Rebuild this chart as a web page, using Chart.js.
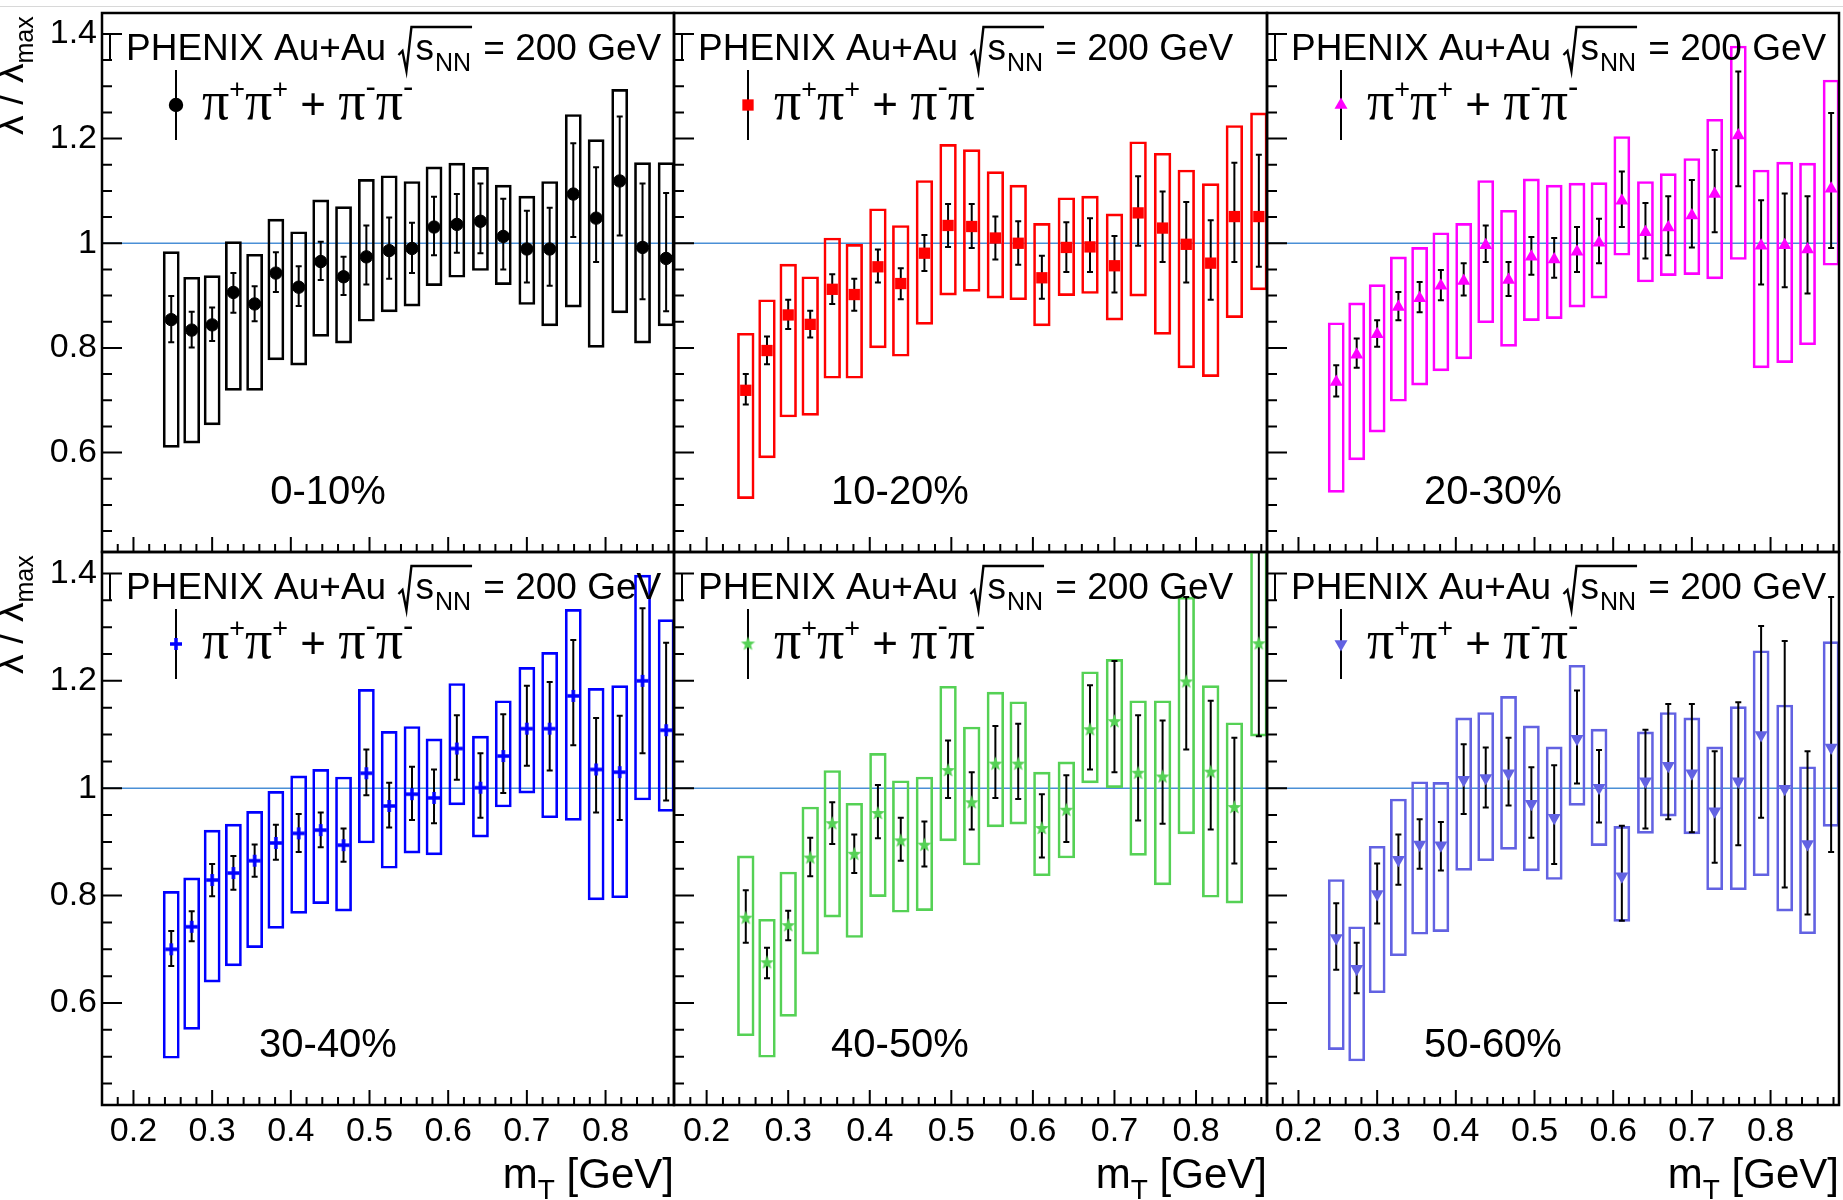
<!DOCTYPE html>
<html>
<head>
<meta charset="utf-8">
<title>lambda / lambda_max vs mT</title>
<script src="https://cdn.jsdelivr.net/npm/chart.js@4.4.1/dist/chart.umd.min.js"></script>
<style>
  body { margin: 0; background: #fff; }
  #wrap { position: relative; width: 1843px; height: 1200px; overflow: hidden; }
  #wrap canvas { position: absolute; }
  #topline { position: absolute; left: 0; top: 6px; width: 1843px; height: 1px; background: #d8d8d8; }
</style>
</head>
<body>
<div id="wrap"><div id="topline"></div></div>
<script>
// m_T bin centres [GeV], same bins for every centrality class
const mT = [0.248, 0.274, 0.300, 0.327, 0.354, 0.381, 0.410, 0.438, 0.467, 0.496, 0.525, 0.554,
            0.582, 0.611, 0.641, 0.670, 0.700, 0.729, 0.759, 0.788, 0.818, 0.847, 0.877];
const centralities = ['0-10%', '10-20%', '20-30%', '30-40%', '40-50%', '50-60%'];
const xTicks = [0.2, 0.3, 0.4, 0.5, 0.6, 0.7, 0.8];
const yTicks = [0.6, 0.8, 1.0, 1.2, 1.4];

// 0-10%
const lam0 = [0.854, 0.834, 0.844, 0.906, 0.884, 0.943, 0.916, 0.965, 0.936, 0.974, 0.986, 0.990,
              1.031, 1.036, 1.042, 1.013, 0.989, 0.989, 1.094, 1.048, 1.119, 0.992, 0.971];
const statLo0 = [0.811, 0.801, 0.813, 0.867, 0.851, 0.907, 0.880, 0.930, 0.901, 0.921, 0.932, 0.943,
                 0.977, 0.982, 0.981, 0.950, 0.925, 0.919, 1.012, 0.964, 1.015, 0.893, 0.870];
const statHi0 = [0.899, 0.869, 0.877, 0.943, 0.918, 0.983, 0.956, 1.003, 0.974, 1.034, 1.049, 1.039,
                 1.089, 1.094, 1.114, 1.085, 1.062, 1.068, 1.191, 1.145, 1.242, 1.114, 1.096];
const sysLo0 = [0.610, 0.618, 0.653, 0.719, 0.719, 0.777, 0.767, 0.822, 0.809, 0.851, 0.869, 0.880,
                0.919, 0.935, 0.948, 0.921, 0.883, 0.842, 0.878, 0.801, 0.867, 0.809, 0.842];
const sysHi0 = [0.984, 0.935, 0.938, 1.003, 0.979, 1.046, 1.022, 1.083, 1.070, 1.122, 1.129, 1.118,
                1.146, 1.153, 1.145, 1.111, 1.090, 1.118, 1.246, 1.198, 1.294, 1.154, 1.154];

// 10-20%
const lam10 = [0.719, 0.795, 0.863, 0.845, 0.912, 0.902, 0.955, 0.923, 0.981, 1.034, 1.032, 1.010,
               1.000, 0.934, 0.992, 0.993, 0.957, 1.058, 1.029, 0.998, 0.962, 1.051, 1.051];
const statLo10 = [0.692, 0.769, 0.836, 0.820, 0.884, 0.871, 0.925, 0.893, 0.947, 0.993, 0.991, 0.969,
                  0.959, 0.894, 0.945, 0.945, 0.906, 0.995, 0.964, 0.925, 0.892, 0.964, 0.955];
const statHi10 = [0.750, 0.822, 0.892, 0.871, 0.941, 0.932, 0.988, 0.952, 1.016, 1.075, 1.075, 1.051,
                  1.042, 0.976, 1.040, 1.048, 1.014, 1.128, 1.099, 1.079, 1.044, 1.154, 1.169];
const sysLo10 = [0.512, 0.590, 0.668, 0.671, 0.742, 0.742, 0.800, 0.784, 0.845, 0.901, 0.908, 0.895,
                 0.892, 0.842, 0.900, 0.904, 0.853, 0.899, 0.826, 0.762, 0.745, 0.858, 0.911];
const sysHi10 = [0.828, 0.892, 0.960, 0.936, 1.010, 0.998, 1.066, 1.034, 1.120, 1.189, 1.179, 1.137,
                 1.111, 1.038, 1.087, 1.090, 1.056, 1.194, 1.172, 1.140, 1.114, 1.225, 1.249];

// 20-30%
const lam20 = [0.735, 0.787, 0.826, 0.878, 0.895, 0.919, 0.928, 0.996, 0.930, 0.974, 0.969, 0.984,
               1.001, 1.081, 1.021, 1.030, 1.053, 1.094, 1.206, 0.995, 0.996, 0.988, 1.104];
const statLo20 = [0.707, 0.762, 0.802, 0.853, 0.868, 0.891, 0.900, 0.964, 0.899, 0.940, 0.934, 0.945,
                  0.962, 1.031, 0.971, 0.977, 0.992, 1.021, 1.109, 0.921, 0.916, 0.904, 0.991];
const statHi20 = [0.767, 0.818, 0.853, 0.907, 0.926, 0.949, 0.962, 1.034, 0.964, 1.012, 1.010, 1.031,
                  1.047, 1.137, 1.077, 1.090, 1.121, 1.178, 1.328, 1.082, 1.095, 1.090, 1.249];
const sysLo20 = [0.524, 0.586, 0.639, 0.698, 0.729, 0.756, 0.779, 0.848, 0.803, 0.852, 0.856, 0.878,
                 0.895, 0.977, 0.926, 0.938, 0.940, 0.932, 0.969, 0.762, 0.772, 0.806, 0.958];
const sysHi20 = [0.848, 0.886, 0.921, 0.974, 0.992, 1.020, 1.038, 1.120, 1.063, 1.123, 1.111, 1.115,
                 1.116, 1.204, 1.118, 1.133, 1.162, 1.237, 1.377, 1.140, 1.155, 1.153, 1.312];

// 30-40%
const lam30 = [0.700, 0.742, 0.829, 0.842, 0.865, 0.898, 0.916, 0.922, 0.894, 1.028, 0.967, 0.989,
               0.982, 1.074, 1.001, 1.060, 1.111, 1.111, 1.172, 1.035, 1.030, 1.200, 1.108];
const statLo30 = [0.669, 0.715, 0.799, 0.811, 0.835, 0.867, 0.881, 0.890, 0.863, 0.987, 0.927, 0.941,
                  0.935, 1.016, 0.945, 0.991, 1.042, 1.033, 1.080, 0.955, 0.941, 1.065, 0.977];
const statHi30 = [0.734, 0.771, 0.859, 0.874, 0.895, 0.932, 0.952, 0.955, 0.925, 1.072, 1.010, 1.040,
                  1.035, 1.136, 1.065, 1.138, 1.191, 1.198, 1.276, 1.131, 1.135, 1.335, 1.271];
const sysLo30 = [0.497, 0.551, 0.639, 0.669, 0.703, 0.739, 0.767, 0.785, 0.771, 0.898, 0.851, 0.879,
                 0.876, 0.969, 0.909, 0.965, 0.991, 0.945, 0.940, 0.792, 0.796, 0.978, 0.957];
const sysHi30 = [0.808, 0.833, 0.922, 0.933, 0.957, 0.994, 1.023, 1.035, 1.021, 1.184, 1.106, 1.115,
                 1.092, 1.195, 1.097, 1.163, 1.225, 1.253, 1.333, 1.186, 1.191, 1.397, 1.314];

// 40-50%
const lam40 = [0.758, 0.675, 0.744, 0.870, 0.934, 0.877, 0.953, 0.902, 0.894, 1.033, 0.973, 1.045,
               1.045, 0.925, 0.959, 1.109, 1.124, 1.028, 1.021, 1.198, 1.030, 0.964, 1.269];
const statLo40 = [0.712, 0.646, 0.717, 0.836, 0.896, 0.842, 0.907, 0.865, 0.854, 0.982, 0.923, 0.982,
                  0.980, 0.871, 0.900, 1.035, 1.030, 0.940, 0.934, 1.072, 0.923, 0.860, 1.097];
const statHi40 = [0.810, 0.703, 0.772, 0.908, 0.974, 0.914, 1.006, 0.945, 0.938, 1.089, 1.030, 1.116,
                  1.120, 0.989, 1.024, 1.192, 1.237, 1.136, 1.126, 1.356, 1.163, 1.094, 1.460];
const sysLo40 = [0.539, 0.499, 0.575, 0.691, 0.760, 0.722, 0.798, 0.769, 0.772, 0.902, 0.857, 0.928,
                 0.933, 0.837, 0.870, 1.010, 1.001, 0.875, 0.820, 0.915, 0.797, 0.786, 1.097];
const sysHi40 = [0.874, 0.756, 0.844, 0.965, 1.033, 0.972, 1.065, 1.014, 1.021, 1.190, 1.114, 1.179,
                 1.161, 1.030, 1.049, 1.217, 1.240, 1.163, 1.163, 1.356, 1.191, 1.122, 1.460];

// 50-60%
const lam50 = [0.721, 0.664, 0.803, 0.867, 0.895, 0.894, 1.016, 1.019, 1.028, 0.971, 0.945, 1.092,
               1.001, 0.836, 1.013, 1.042, 1.028, 0.957, 1.013, 1.099, 0.999, 0.896, 1.076];
const statLo50 = [0.662, 0.618, 0.748, 0.820, 0.850, 0.847, 0.952, 0.964, 0.968, 0.908, 0.859, 1.009,
                  0.936, 0.753, 0.925, 0.942, 0.918, 0.861, 0.894, 0.945, 0.815, 0.765, 0.881];
const statHi50 = [0.786, 0.712, 0.860, 0.914, 0.942, 0.937, 1.082, 1.076, 1.094, 1.039, 1.043, 1.182,
                  1.071, 0.930, 1.109, 1.157, 1.157, 1.069, 1.160, 1.302, 1.274, 1.069, 1.356];
const sysLo50 = [0.513, 0.492, 0.619, 0.688, 0.728, 0.733, 0.847, 0.865, 0.886, 0.846, 0.830, 0.968,
                 0.893, 0.752, 0.916, 0.948, 0.915, 0.811, 0.811, 0.837, 0.771, 0.729, 0.929];
const sysHi50 = [0.830, 0.742, 0.892, 0.980, 1.012, 1.011, 1.131, 1.141, 1.171, 1.116, 1.077, 1.229,
                 1.110, 0.929, 1.105, 1.141, 1.131, 1.077, 1.152, 1.256, 1.155, 1.040, 1.273];

const lamAll = [lam0, lam10, lam20, lam30, lam40, lam50];
const statLoAll = [statLo0, statLo10, statLo20, statLo30, statLo40, statLo50];
const statHiAll = [statHi0, statHi10, statHi20, statHi30, statHi40, statHi50];
const sysLoAll = [sysLo0, sysLo10, sysLo20, sysLo30, sysLo40, sysLo50];
const sysHiAll = [sysHi0, sysHi10, sysHi20, sysHi30, sysHi40, sysHi50];

// page layout (frame edges of the 3x2 pads)
const colX = [102, 674, 1267, 1839];
const rowY = [13, 552, 1105];
const X_MIN = 0.16, X_MAX = 0.887, Y_MIN = 0.41, Y_MAX = 1.44;
const BOX_W = 0.0205; // width of the systematic boxes in GeV

const colors = ['#000000', '#ff0000', '#ff00ff', '#0000ff', '#55d155', '#6262e2'];
const SANS = '"Liberation Sans", Arial, sans-serif';
const SERIF = '"Liberation Serif", "Times New Roman", serif';

function starImage(color, r) {
    const s = Math.ceil(r * 2) + 2;
    const cv = document.createElement('canvas');
    cv.width = s; cv.height = s;
    const g = cv.getContext('2d');
    g.fillStyle = color;
    g.beginPath();
    for (let k = 0; k < 10; k++) {
        const rad = k % 2 ? r * 0.42 : r;
        const ang = -Math.PI / 2 + k * Math.PI / 5;
        g.lineTo(s / 2 + rad * Math.cos(ang), s / 2 + rad * Math.sin(ang));
    }
    g.closePath();
    g.fill();
    return cv;
}

function plusImage(color, r, t) {
    const s = Math.ceil(r * 2) + 2;
    const cv = document.createElement('canvas');
    cv.width = s; cv.height = s;
    const g = cv.getContext('2d');
    g.fillStyle = color;
    const m = s / 2;
    g.fillRect(m - r, m - t / 2, 2 * r, t);
    g.fillRect(m - t / 2, m - r, t, 2 * r);
    return cv;
}

const markers = [
    { pointStyle: 'circle', radius: 6.2, borderWidth: 1, rotation: 0 },
    { pointStyle: 'rect', radius: 8, borderWidth: 0, rotation: 0 },
    { pointStyle: 'triangle', radius: 7.5, borderWidth: 0, rotation: 0 },
    { pointStyle: plusImage(colors[3], 6, 3.5), radius: 6, borderWidth: 0, rotation: 0 },
    { pointStyle: starImage(colors[4], 7.5), radius: 7.5, borderWidth: 0, rotation: 0 },
    { pointStyle: 'triangle', radius: 7.5, borderWidth: 0, rotation: 180 },
];

function fmtTick(v) {
    return String(Math.round(v * 10) / 10);
}

// text pieces: [text, font, baseline shift]
function drawPieces(ctx, pieces, x, y) {
    pieces.forEach(p => {
        ctx.font = p[1];
        ctx.fillText(p[0], x, y + p[2]);
        x += ctx.measureText(p[0]).width;
    });
    return x;
}

function drawHeader(ctx, x, y) {
    ctx.font = '37px ' + SANS;
    const t1 = 'PHENIX Au+Au ';
    ctx.fillText(t1, x, y);
    const rx = x + ctx.measureText(t1).width;
    ctx.fillText('s', rx + 19, y);
    let xs = rx + 19 + ctx.measureText('s').width + 1;
    ctx.font = '25px ' + SANS;
    ctx.fillText('NN', xs, y + 11);
    xs += ctx.measureText('NN').width;
    // radical sign
    ctx.beginPath();
    ctx.lineWidth = 2.4;
    ctx.moveTo(rx + 2, y - 5);
    ctx.lineTo(rx + 6, y - 9);
    ctx.lineTo(rx + 10, y + 11);
    ctx.lineTo(rx + 15, y - 33);
    ctx.lineTo(xs + 1, y - 33);
    ctx.stroke();
    ctx.font = '37px ' + SANS;
    ctx.fillText(' = 200 GeV', xs + 2, y);
}

function makePanelPlugin(i) {
    const c = i % 3, r = Math.floor(i / 3);
    const color = colors[i];
    const mk = markers[i];
    return {
        id: 'rootPanel' + i,
        beforeDatasetDraw(chart, args) {
            if (args.index !== 2) return;
            const ctx = chart.ctx, a = chart.chartArea;
            const x = chart.scales.x, y = chart.scales.y;
            const lo = statLoAll[i], hi = statHiAll[i];
            ctx.save();
            ctx.beginPath();
            ctx.rect(a.left, a.top, a.width, a.height);
            ctx.clip();
            ctx.strokeStyle = '#000';
            ctx.lineWidth = 2;
            ctx.beginPath();
            mT.forEach((v, k) => {
                const px = x.getPixelForValue(v);
                const y1 = y.getPixelForValue(lo[k]);
                const y2 = y.getPixelForValue(hi[k]);
                ctx.moveTo(px, y1); ctx.lineTo(px, y2);
                ctx.moveTo(px - 3, y1); ctx.lineTo(px + 3, y1);
                ctx.moveTo(px - 3, y2); ctx.lineTo(px + 3, y2);
            });
            ctx.stroke();
            ctx.restore();
        },
        afterDraw(chart) {
            const ctx = chart.ctx, a = chart.chartArea;
            const x = chart.scales.x, y = chart.scales.y;
            ctx.save();
            ctx.strokeStyle = '#000';
            ctx.fillStyle = '#000';
            ctx.lineWidth = 2;
            ctx.beginPath();
            for (let k = 9; k <= 28; k++) {
                const py = y.getPixelForValue(k * 0.05);
                ctx.moveTo(a.left, py);
                ctx.lineTo(a.left + (k % 4 === 0 ? 20 : 10), py);
            }
            for (let k = 8; k <= 44; k++) {
                const px = x.getPixelForValue(k * 0.02);
                ctx.moveTo(px, a.bottom);
                ctx.lineTo(px, a.bottom - (k % 5 === 0 ? 15 : 8));
            }
            ctx.moveTo(a.left + 8, y.getPixelForValue(1.4));
            ctx.lineTo(a.left + 8, y.getPixelForValue(1.35));
            ctx.stroke();
            ctx.lineWidth = 2.5;
            ctx.strokeRect(a.left, a.top, a.width, a.height);

            ctx.textAlign = 'left';
            ctx.textBaseline = 'alphabetic';
            drawHeader(ctx, a.left + 24, a.top + 47);

            // legend entry
            ctx.lineWidth = 2;
            ctx.beginPath();
            ctx.moveTo(a.left + 74, a.top + 57);
            ctx.lineTo(a.left + 74, a.top + 127);
            ctx.stroke();
            ctx.fillStyle = color;
            ctx.strokeStyle = color;
            if (Chart.helpers && Chart.helpers.drawPoint) {
                Chart.helpers.drawPoint(ctx, mk, a.left + 74, a.top + 92);
            }
            ctx.fillStyle = '#000';
            ctx.strokeStyle = '#000';
            const pi = '54px ' + SERIF, sup = '27px ' + SANS, supm = '31px ' + SANS;
            drawPieces(ctx, [
                ['\u03c0', pi, 0], ['+', sup, -21], ['\u03c0', pi, 0], ['+', sup, -21],
                [' + ', '44px ' + SANS, 0],
                ['\u03c0', pi, 0], ['-', supm, -22], ['\u03c0', pi, 0], ['-', supm, -22]
            ], a.left + 100, a.top + 106);

            // centrality class
            ctx.font = '40px ' + SANS;
            ctx.textAlign = 'center';
            ctx.fillText(centralities[i], a.left + 226, a.bottom - 48);
            ctx.textAlign = 'left';

            if (c === 0) {
                ctx.save();
                ctx.translate(a.left - 79, a.top + 122);
                ctx.rotate(-Math.PI / 2);
                ctx.font = '39px ' + SANS;
                ctx.fillText('\u03bb / \u03bb', 0, 0);
                const w = ctx.measureText('\u03bb / \u03bb').width;
                ctx.font = '25px ' + SANS;
                ctx.fillText('max', w, 10);
                ctx.restore();
            }
            if (r === 1) {
                const big = '42px ' + SANS, small = '28px ' + SANS;
                ctx.font = big;
                const wm = ctx.measureText('m').width;
                const wg = ctx.measureText(' [GeV]').width;
                ctx.font = small;
                const wt = ctx.measureText('T').width;
                const x0 = a.right - (wm + wt + wg);
                drawPieces(ctx, [['m', big, 0], ['T', small, 11], [' [GeV]', big, 0]], x0, a.bottom + 83);
            }
            ctx.restore();
        }
    };
}

function panelInit(i) {
    const c = i % 3, r = Math.floor(i / 3);
    const left = c === 0 ? 0 : colX[c] - 3;
    const right = c === 2 ? 1843 : colX[c + 1] + 3;
    const top = r === 0 ? 0 : rowY[1] - 3;
    const bottom = r === 0 ? rowY[1] + 3 : 1200;
    const padL = colX[c] - left, padR = right - colX[c + 1];
    const padT = rowY[r] - top, padB = bottom - rowY[r + 1];

    const canvas = document.createElement('canvas');
    canvas.width = right - left;
    canvas.height = bottom - top;
    canvas.style.left = left + 'px';
    canvas.style.top = top + 'px';
    canvas.style.width = (right - left) + 'px';
    canvas.style.height = (bottom - top) + 'px';
    document.getElementById('wrap').appendChild(canvas);

    const pxPerGeV = (colX[c + 1] - colX[c]) / (X_MAX - X_MIN);
    const color = colors[i];
    const mk = markers[i];
    const lam = lamAll[i], sysLo = sysLoAll[i], sysHi = sysHiAll[i];

    const ctx = canvas.getContext('2d');
    return new Chart(ctx, {
        type: 'bar',
        data: {
            datasets: [{
                type: 'line',
                data: [{ x: X_MIN, y: 1 }, { x: X_MAX, y: 1 }],
                borderColor: '#4a8fd6',
                borderWidth: 1.3,
                pointRadius: 0,
                order: 2,
            }, {
                type: 'bar',
                data: mT.map((v, k) => ({ x: v, y: [sysLo[k], sysHi[k]] })),
                backgroundColor: 'rgba(0,0,0,0)',
                borderColor: color,
                borderWidth: 2,
                borderSkipped: false,
                barThickness: BOX_W * pxPerGeV,
                grouped: false,
                clip: 0,
                order: 1,
            }, {
                type: 'scatter',
                data: mT.map((v, k) => ({ x: v, y: lam[k] })),
                pointStyle: mk.pointStyle,
                pointRadius: mk.radius,
                pointRotation: mk.rotation,
                pointBorderWidth: mk.borderWidth,
                pointBackgroundColor: color,
                pointBorderColor: color,
                order: 0,
            }],
        },
        options: {
            responsive: false,
            animation: false,
            events: [],
            layout: { padding: { left: 0, right: padR, top: padT, bottom: 0 }, autoPadding: false },
            plugins: { legend: { display: false }, tooltip: { enabled: false } },
            scales: {
                x: {
                    type: 'linear',
                    min: X_MIN,
                    max: X_MAX,
                    offset: false,
                    grid: { display: false, drawTicks: false },
                    border: { display: false },
                    ticks: {
                        display: r === 1,
                        autoSkip: false,
                        maxRotation: 0,
                        padding: 6,
                        color: '#000',
                        font: { family: SANS, size: 34 },
                        callback: fmtTick,
                    },
                    afterBuildTicks: s => { s.ticks = xTicks.map(v => ({ value: v })); },
                    afterFit: s => {
                        s.height = padB;
                        s.paddingLeft = 0; s.paddingRight = 0; s.paddingTop = 0; s.paddingBottom = 0;
                    },
                },
                y: {
                    type: 'linear',
                    min: Y_MIN,
                    max: Y_MAX,
                    grid: { display: false, drawTicks: false },
                    border: { display: false },
                    ticks: {
                        display: c === 0,
                        autoSkip: false,
                        padding: 5,
                        color: '#000',
                        font: { family: SANS, size: 34 },
                        callback: fmtTick,
                    },
                    afterBuildTicks: s => { s.ticks = yTicks.map(v => ({ value: v })); },
                    afterFit: s => {
                        s.width = padL;
                        s.paddingLeft = 0; s.paddingRight = 0; s.paddingTop = 0; s.paddingBottom = 0;
                    },
                },
            },
        },
        plugins: [makePanelPlugin(i)],
    });
}

const charts = [0, 1, 2, 3, 4, 5].map(panelInit);
</script>
</body>
</html>
